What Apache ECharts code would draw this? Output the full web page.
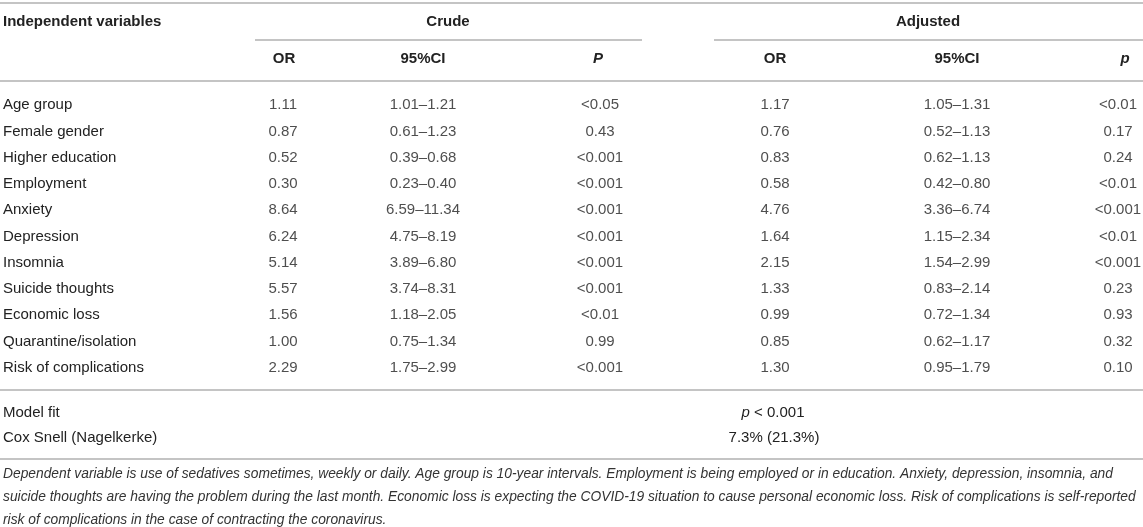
<!DOCTYPE html>
<html>
<head>
<meta charset="utf-8">
<script src="https://cdn.jsdelivr.net/npm/echarts@6/dist/echarts.min.js"></script>
<style>
html,body{margin:0;padding:0;background:#fff;}
#chart{width:1143px;height:527px;}
</style>
</head>
<body>
<div id="chart"></div>
<script>
// ---- data ----
const variables = ['Age group','Female gender','Higher education','Employment','Anxiety','Depression','Insomnia','Suicide thoughts','Economic loss','Quarantine/isolation','Risk of complications'];
const crudeOR = ['1.11','0.87','0.52','0.30','8.64','6.24','5.14','5.57','1.56','1.00','2.29'];
const crudeCI = ['1.01–1.21','0.61–1.23','0.39–0.68','0.23–0.40','6.59–11.34','4.75–8.19','3.89–6.80','3.74–8.31','1.18–2.05','0.75–1.34','1.75–2.99'];
const crudeP = ['<0.05','0.43','<0.001','<0.001','<0.001','<0.001','<0.001','<0.001','<0.01','0.99','<0.001'];
const adjOR = ['1.17','0.76','0.83','0.58','4.76','1.64','2.15','1.33','0.99','0.85','1.30'];
const adjCI = ['1.05–1.31','0.52–1.13','0.62–1.13','0.42–0.80','3.36–6.74','1.15–2.34','1.54–2.99','0.83–2.14','0.72–1.34','0.62–1.17','0.95–1.79'];
const adjP = ['<0.01','0.17','0.24','<0.01','<0.001','<0.01','<0.001','0.23','0.93','0.32','0.10'];
const groupHeaders = ['Crude','Adjusted'];
const colHeaders = ['OR','95%CI','P','OR','95%CI','p'];
const fitLabels = ['Model fit','Cox Snell (Nagelkerke)'];
const fitValues = ['p < 0.001','7.3% (21.3%)'];
const footnoteLines = [
  'Dependent variable is use of sedatives sometimes, weekly or daily. Age group is 10-year intervals. Employment is being employed or in education. Anxiety, depression, insomnia, and',
  'suicide thoughts are having the problem during the last month. Economic loss is expecting the COVID-19 situation to cause personal economic loss. Risk of complications is self-reported',
  'risk of complications in the case of contracting the coronavirus.'
];

// ---- layout (positions, not data) ----
const FONT = '"Liberation Sans", Arial, Helvetica, sans-serif';
const TXT = '#222';
const LINE = '#c4c4c4';
const W = 1143;
const FS = 15;
const colX = [283, 423, 600, 775, 957, 1118];
const headX = [284, 423, 598, 775, 957, 1125];
const columns = [crudeOR, crudeCI, crudeP, adjOR, adjCI, adjP];

const chart = echarts.init(document.getElementById('chart'), null, {renderer:'canvas'});

const series = columns.map((col, c) => ({
  type: 'scatter',
  symbolSize: 0,
  silent: true,
  animation: false,
  data: col.map((t, i) => ({ value: [colX[c], i], name: t })),
  label: {
    show: true,
    position: 'inside',
    formatter: '{b}',
    color: TXT,
    fontFamily: FONT,
    fontSize: FS,
    align: 'center',
    verticalAlign: 'middle'
  }
}));

const graphics = [];
function hline(x1, x2, y) {
  graphics.push({ type:'line', silent:true, shape:{x1:x1, y1:y, x2:x2, y2:y}, style:{stroke:LINE, lineWidth:2} });
}
function text(str, x, y, opts) {
  graphics.push({ type:'text', silent:true, x:x, y:y, style:Object.assign({
    text:str, fill:TXT, font:FS + 'px ' + FONT, textAlign:'left', textVerticalAlign:'middle'
  }, opts || {}) });
}
hline(0, W, 3);
text('Independent variables', 3, 22, { font:'bold ' + FS + 'px ' + FONT });
text(groupHeaders[0], 448, 22, { font:'bold ' + FS + 'px ' + FONT, textAlign:'center' });
text(groupHeaders[1], 928, 22, { font:'bold ' + FS + 'px ' + FONT, textAlign:'center' });
hline(255, 642, 40);
hline(714, W, 40);
colHeaders.forEach((h, c) => {
  const italic = (h === 'P' || h === 'p') ? 'italic ' : '';
  text(h, headX[c], 59, { font: italic + 'bold ' + FS + 'px ' + FONT, textAlign:'center' });
});
hline(0, W, 81);
hline(0, W, 390);
text(fitLabels[0], 3, 413);
text(fitLabels[1], 3, 438);
graphics.push({ type:'text', silent:true, x:773, y:413, style:{
  text:'{i|p} < 0.001', fill:TXT, font:FS + 'px ' + FONT, textAlign:'center', textVerticalAlign:'middle',
  rich:{ i:{ fontStyle:'italic', fontFamily:FONT, fontSize:FS, fill:TXT } }
}});
text(fitValues[1], 774, 438, { textAlign:'center' });
hline(0, W, 459);
footnoteLines.forEach((l, i) => {
  text(l, 3, 474 + i * 23, { font:'italic 13.8px ' + FONT, fill:'#333' });
});

chart.setOption({
  animation: false,
  grid: { left: 0, right: 0, top: 92, bottom: 146, containLabel: false },
  xAxis: { type:'value', min:0, max:W, show:false },
  yAxis: {
    type:'category', data: variables, inverse:true,
    axisLine:{show:false}, axisTick:{show:false}, splitLine:{show:false},
    axisLabel:{ inside:true, margin:3, align:'left', color:TXT, fontFamily:FONT, fontSize:FS }
  },
  series: series,
  graphic: graphics
});
</script>
</body>
</html>
